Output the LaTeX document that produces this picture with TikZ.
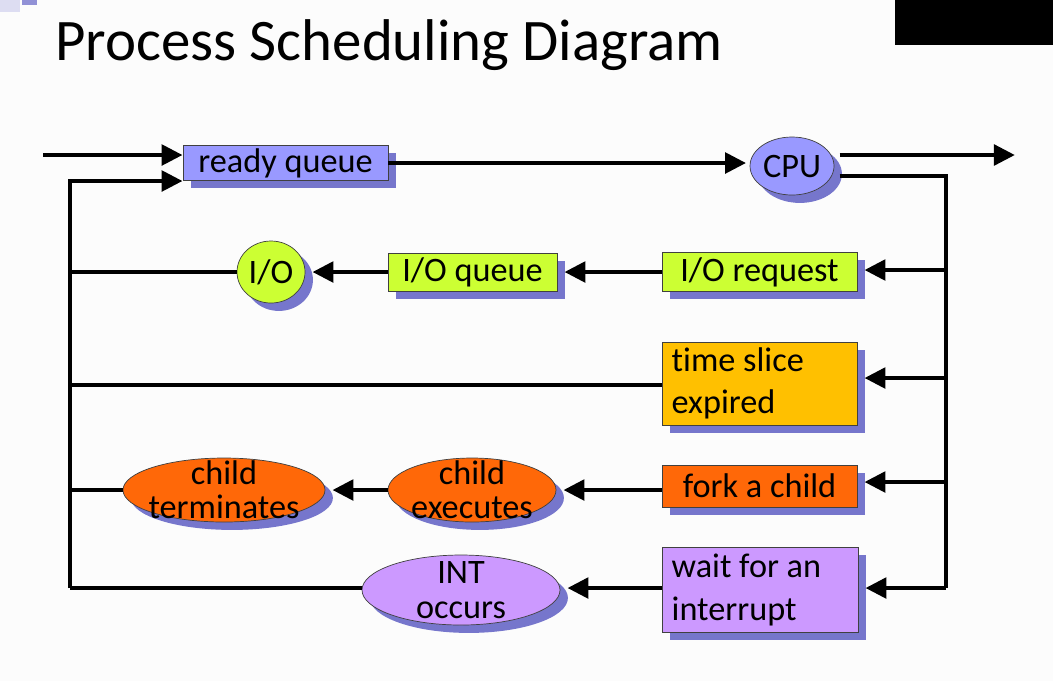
\documentclass[tikz,border=0pt]{standalone}
\usepackage{fontspec}
\setmainfont{Carlito}[Ligatures=NoCommon]
\usetikzlibrary{arrows.meta,shapes.geometric,shadows,positioning}

\definecolor{qblue}{RGB}{153,153,255}
\definecolor{lime}{RGB}{204,255,51}
\definecolor{amber}{RGB}{255,192,0}
\definecolor{orng}{RGB}{255,104,8}
\definecolor{lilac}{RGB}{204,153,255}
\definecolor{shade}{RGB}{118,118,204}
\definecolor{paper}{RGB}{252,252,252}
\newcommand{\pxu}{0.02cm}

\tikzset{
  shad/.style={drop shadow={shadow xshift=4.5pt,shadow yshift=-4.5pt,fill=shade,opacity=1}},
  qbox/.style={draw=black!75,thin,shad,align=flush left,inner xsep=5.5pt,inner ysep=0pt,
    font=\fontsize{19.5}{24}\selectfont},
  qell/.style={ellipse,draw=black!75,thin,shad,inner sep=0pt},
  ltext/.style={font=\fontsize{19.5}{19.5}\selectfont,align=center,inner sep=0pt},
  flow/.style={line width=2.8pt},
  arr/.style={flow,-{Triangle[length=12pt,width=11.5pt]}},
  sarr/.style={arr,shorten >=4pt},
}

\begin{document}
\begin{tikzpicture}[x=\pxu,y=-\pxu]
  \fill[paper] (0,0) rectangle (1053,681);
  \useasboundingbox (0,0) rectangle (1053,681);
  \fill[shade!25] (0,0) rectangle (20,12);
  \fill[shade!80] (22,0) rectangle (37,5);
  \fill[black] (895,0) rectangle (1053,45);

  \node[anchor=base west,inner sep=0pt,font=\fontsize{33.5}{36}\selectfont] (title) at (55,60) {Process Scheduling Diagram};

  % queues and events
  \node[qbox,fill=qblue,minimum width=205*\pxu,minimum height=35*\pxu] (rq) at (285.5,163) {ready queue};
  \node[qell,fill=qblue,minimum width=84*\pxu,minimum height=58*\pxu,label={[ltext]center:CPU}] (cpu) at (792,166) {};
  \node[qbox,fill=lime,minimum width=195*\pxu,minimum height=39*\pxu] (ior) at (759.5,272) {I/O request};
  \node[qbox,fill=lime,minimum width=169*\pxu,minimum height=38*\pxu] (ioq) at (472.5,272) {I/O queue};
  \node[qell,fill=lime,minimum width=68*\pxu,minimum height=62*\pxu,label={[ltext]center:I/O}] (io) at (271,272) {};
  \node[qbox,fill=amber,text width=195*\pxu-11pt,minimum height=83*\pxu] (ts) at (759.5,383.5) {time slice\\expired};
  \node[qbox,fill=orng,minimum width=195*\pxu,minimum height=42*\pxu] (fork) at (759.5,486) {fork a child};
  \node[qell,fill=orng,minimum width=168*\pxu,minimum height=64*\pxu,label={[ltext]center:child\\executes}] (cexe) at (472,490) {};
  \node[qell,fill=orng,minimum width=202*\pxu,minimum height=64*\pxu,label={[ltext]center:child\\terminates}] (cterm) at (224,490) {};
  \node[qbox,fill=lilac,text width=196*\pxu-11pt,minimum height=85*\pxu] (wait) at (760,590) {wait for an\\interrupt};
  \node[qell,fill=lilac,minimum width=198*\pxu,minimum height=70*\pxu,label={[ltext]center:INT\\occurs}] (int) at (461,590) {};

  % bus ends
  \coordinate (in) at (43,155);
  \coordinate (ret) at (70,181);
  \coordinate (retb) at (70,588);
  \coordinate (exit) at (1015,155);
  \coordinate (rb) at (946,176);
  \coordinate (rbb) at (946,588);

  % connectors
  \draw[arr] (in) -- (in -| rq.west);
  \draw[arr] (retb) -- (ret) -- (ret -| rq.west);
  \draw[arr] (rq.east) -- ([xshift=-2pt]rq.east -| cpu.west);
  \draw[arr] ([xshift=3pt]cpu.east |- exit) -- (exit);
  \draw[flow] ([xshift=3pt]cpu.east |- rb) -- (rb) -- (rbb);
  \draw[sarr] (rb |- 0,270) -- (ior.east |- 0,270);
  \draw[sarr] (rb |- 0,378) -- (ts.east |- 0,378);
  \draw[sarr] (rb |- 0,482) -- (fork.east |- 0,482);
  \draw[sarr] (rbb) -- (wait.east |- rbb);
  \draw[sarr] (ior) -- (ioq);
  \draw[sarr] (ioq) -- (io);
  \draw[flow] (io) -- (io -| ret);
  \draw[flow] (ts.west |- 0,385) -- (ret |- 0,385);
  \draw[sarr] (fork.west |- 0,490) -- (cexe);
  \draw[sarr] (cexe) -- (cterm);
  \draw[flow] (cterm) -- (cterm -| ret);
  \draw[sarr] (wait.west |- rbb) -- (int.east |- rbb);
  \draw[flow] (int.west |- retb) -- (retb);
\end{tikzpicture}
\end{document}
